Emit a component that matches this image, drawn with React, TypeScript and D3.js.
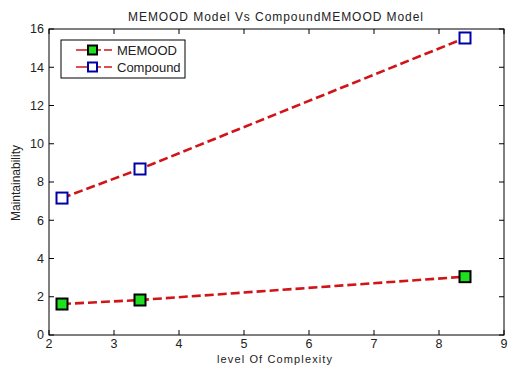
import * as d3 from "d3";

const levels = [2.2, 3.4, 8.4];
const memood = [1.62, 1.83, 3.05];
const compound = [7.16, 8.68, 15.53];
const xTicks = [2, 3, 4, 5, 6, 7, 8, 9];
const yTicks = [0, 2, 4, 6, 8, 10, 12, 14, 16];

const series = [
  { name: "MEMOOD", values: memood, fill: "#1ee01e", stroke: "#000000" },
  { name: "Compound", values: compound, fill: "#ffffff", stroke: "#0000a8" },
];

const width = 508,
  height = 368;
const MARGIN = { top: 29, right: 4, bottom: 33, left: 49 };
const LINE_COLOR = "#d01418";
const FONT = "'Liberation Sans', Arial, sans-serif";

const App = () => {
  const boundsWidth = width - MARGIN.left - MARGIN.right;
  const boundsHeight = height - MARGIN.top - MARGIN.bottom;

  const xScale = d3.scaleLinear().domain([2, 9]).range([0, boundsWidth]);
  const yScale = d3.scaleLinear().domain([0, 16]).range([boundsHeight, 0]);

  const line = d3
    .line<number>()
    .x((_, i) => xScale(levels[i]))
    .y((d) => yScale(d));

  const tickLen = 5;

  return (
    <div style={{ position: "absolute", left: 0, top: 0 }}>
      <svg width={width} height={height} style={{ display: "block", background: "#fff" }} fontFamily={FONT}>
        <text x={275.5} y={21} textAnchor="middle" fontSize={12} fill="#222" textLength={295} lengthAdjust="spacing">
          MEMOOD Model Vs CompoundMEMOOD Model
        </text>
        <g transform={`translate(${MARGIN.left},${MARGIN.top})`}>
          {/* ticks on all four sides, pointing inward */}
          {xTicks.map((t) => (
            <g key={`x${t}`}>
              <line x1={xScale(t)} x2={xScale(t)} y1={boundsHeight} y2={boundsHeight - tickLen} stroke="#000" />
              <line x1={xScale(t)} x2={xScale(t)} y1={0} y2={tickLen} stroke="#000" />
              <text x={xScale(t)} y={boundsHeight + 13} textAnchor="middle" fontSize={12.5} fill="#222">
                {t}
              </text>
            </g>
          ))}
          {yTicks.map((t) => (
            <g key={`y${t}`}>
              <line x1={0} x2={tickLen} y1={yScale(t)} y2={yScale(t)} stroke="#000" />
              <line x1={boundsWidth} x2={boundsWidth - tickLen} y1={yScale(t)} y2={yScale(t)} stroke="#000" />
              <text x={-5} y={yScale(t)} dy="0.35em" textAnchor="end" fontSize={12.5} fill="#222">
                {t}
              </text>
            </g>
          ))}
          <rect x={0} y={0} width={boundsWidth} height={boundsHeight} fill="none" stroke="#000" strokeWidth={1} />

          {series.map((s) => (
            <g key={s.name}>
              <path
                d={line(s.values) ?? ""}
                fill="none"
                stroke={LINE_COLOR}
                strokeWidth={2.6}
                strokeDasharray="9,4"
              />
              {s.values.map((v, i) => (
                <rect
                  key={i}
                  x={xScale(levels[i]) - 5.5}
                  y={yScale(v) - 5.5}
                  width={11}
                  height={11}
                  fill={s.fill}
                  stroke={s.stroke}
                  strokeWidth={2}
                />
              ))}
            </g>
          ))}

          {/* legend */}
          <g transform="translate(12,11)">
            <rect x={0} y={0} width={124} height={38} fill="#fff" stroke="#000" />
            {series.map((s, i) => (
              <g key={s.name} transform={`translate(0,${10 + i * 17})`}>
                <line x1={15} x2={53} y1={0} y2={0} stroke={LINE_COLOR} strokeWidth={1.6} strokeDasharray="14,5,6,3,8" />
                <rect x={27} y={-4.5} width={9} height={9} fill={s.fill} stroke={s.stroke} strokeWidth={2} />
                <text x={56} y={0} dy="0.35em" fontSize={13} fill="#222">
                  {s.name}
                </text>
              </g>
            ))}
          </g>
        </g>
        <text x={274.5} y={363} textAnchor="middle" fontSize={11} fill="#222" textLength={115} lengthAdjust="spacing">
          level Of Complexity
        </text>
        <text
          transform="translate(20,183) rotate(-90)"
          textAnchor="middle"
          fontSize={12}
          fill="#222"
          textLength={76}
          lengthAdjust="spacing"
        >
          Maintainability
        </text>
      </svg>
    </div>
  );
};

export default App;
